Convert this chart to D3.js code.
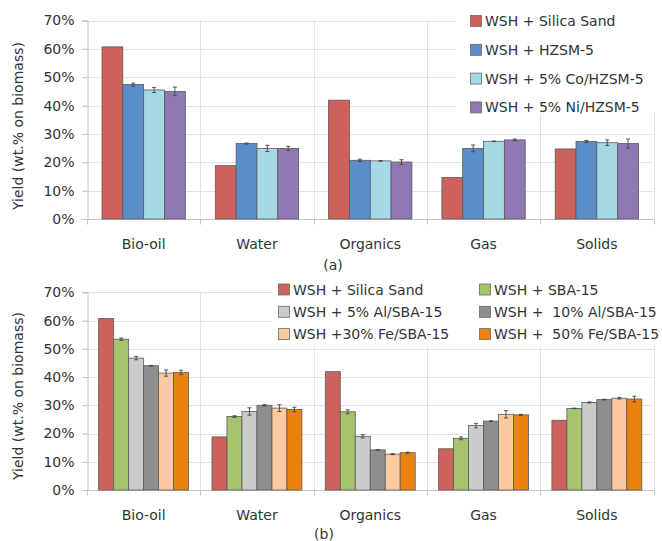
<!DOCTYPE html>
<html>
<head>
<meta charset="utf-8">
<script src="https://cdn.jsdelivr.net/npm/d3@7"></script>
<style>
  html, body { margin: 0; padding: 0; background: #fff; }
  svg { display: block; font-family: "DejaVu Sans", Verdana, sans-serif; }
  text { fill: #333; }
</style>
</head>
<body>
<svg id="chart" width="662" height="541"></svg>
<script>
// Product categories shared by both panels
const categories = ["Bio-oil", "Water", "Organics", "Gas", "Solids"];

// Panel (a): HZSM-5 based catalysts
const seriesA = ["WSH + Silica Sand", "WSH + HZSM-5", "WSH + 5% Co/HZSM-5", "WSH + 5% Ni/HZSM-5"];
const colorsA = ["#CD615B", "#5B8EC9", "#A6D9E6", "#9078B4"];
const silicaSand = [60.7, 18.8, 41.9, 14.6, 24.7];
const hzsm5 = [47.4, 26.6, 20.7, 24.9, 27.3];
const coHzsm5 = [45.5, 24.9, 20.5, 27.4, 26.9];
const niHzsm5 = [45.0, 24.9, 20.1, 27.9, 26.6];
const silicaSandErr = [0, 0, 0, 0, 0];
const hzsm5Err = [0.5, 0.2, 0.4, 1.2, 0.4];
const coHzsm5Err = [0.9, 1.1, 0.1, 0.1, 1.0];
const niHzsm5Err = [1.5, 0.7, 0.8, 0.3, 1.6];

// Panel (b): SBA-15 based catalysts
const seriesB = ["WSH + Silica Sand", "WSH + SBA-15", "WSH + 5% Al/SBA-15",
                 "WSH +  10% Al/SBA-15", "WSH +30% Fe/SBA-15", "WSH +  50% Fe/SBA-15"];
const colorsB = ["#CD615B", "#A6C46B", "#CBCBCB", "#8E8E8E", "#FAC9A0", "#EA820F"];
const sba15 = [53.4, 26.0, 27.7, 18.3, 28.9];
const al5Sba15 = [46.7, 27.8, 19.0, 22.8, 31.0];
const al10Sba15 = [44.0, 30.0, 14.2, 24.4, 32.0];
const fe30Sba15 = [41.4, 29.0, 12.7, 26.8, 32.5];
const fe50Sba15 = [41.6, 28.5, 13.2, 26.6, 32.2];
const sba15Err = [0.4, 0.3, 0.7, 0.5, 0.1];
const al5Sba15Err = [0.6, 1.3, 0.6, 0.8, 0.2];
const al10Sba15Err = [0.1, 0.2, 0.1, 0.1, 0.1];
const fe30Sba15Err = [1.1, 1.2, 0.2, 1.3, 0.3];
const fe50Sba15Err = [0.8, 0.8, 0.2, 0.2, 1.0];

const yTicks = [0, 10, 20, 30, 40, 50, 60, 70];
const yTitle = "Yield (wt.% on biomass)";

const svg = d3.select("#chart");

function panel(cfg) {
  const g = svg.append("g");
  const x = d3.scaleBand().domain(categories).range([87, 653.5]).padding(0);
  const y = d3.scaleLinear().domain([0, 70]).range([cfg.y0, cfg.y70]);
  const x1 = d3.scaleBand().domain(cfg.series)
    .range([cfg.groupPad, x.bandwidth() - cfg.groupPad]).padding(0);

  // horizontal grid lines
  g.selectAll("line.hg").data(yTicks.slice(1)).join("line")
    .attr("x1", 82).attr("x2", 653.5)
    .attr("y1", d => Math.round(y(d)) + 0.5).attr("y2", d => Math.round(y(d)) + 0.5)
    .attr("stroke", "#e2e2e2").attr("stroke-width", 1);
  // vertical grid lines at category boundaries
  g.selectAll("line.vg").data(categories).join("line")
    .attr("x1", d => Math.round(x(d) + x.bandwidth()) + 0.5)
    .attr("x2", d => Math.round(x(d) + x.bandwidth()) + 0.5)
    .attr("y1", y(0)).attr("y2", y(70))
    .attr("stroke", "#e2e2e2").attr("stroke-width", 1);

  // legend backdrop hides the grid behind it
  g.append("rect").attr("x", cfg.legend.bx).attr("y", cfg.legend.by)
    .attr("width", cfg.legend.bw).attr("height", cfg.legend.bh).attr("fill", "#fff");

  // y axis
  const yAxis = d3.axisLeft(y).tickValues(yTicks).tickSize(5).tickPadding(6)
    .tickFormat(d => d + "%");
  const ya = g.append("g").attr("transform", "translate(87.5,0)").call(yAxis);
  ya.select(".domain").attr("stroke", "#c4c4c4");
  ya.selectAll(".tick line").attr("stroke", "#c4c4c4");
  ya.selectAll(".tick text").attr("font-size", 14).attr("fill", "#333")
    .attr("font-family", "DejaVu Sans, sans-serif").attr("x", -13);

  // x axis with boundary ticks
  const xa = g.append("g").attr("transform", `translate(0,${Math.round(y(0)) + 0.5})`);
  xa.append("line").attr("x1", 82).attr("x2", 653.5).attr("stroke", "#c4c4c4");
  const bounds = [x.range()[0]].concat(categories.map(c => x(c) + x.bandwidth()));
  xa.selectAll("line.t").data(bounds).join("line")
    .attr("x1", d => Math.round(d) + 0.5).attr("x2", d => Math.round(d) + 0.5)
    .attr("y1", 0).attr("y2", 5).attr("stroke", "#c4c4c4");
  xa.selectAll("text").data(categories).join("text")
    .attr("x", d => x(d) + x.bandwidth() / 2).attr("y", cfg.catLabelY)
    .attr("text-anchor", "middle").attr("font-size", 14).text(d => d);

  // bars
  const rows = [];
  cfg.series.forEach((s, i) => {
    categories.forEach((c, j) => {
      rows.push({ s, c, v: cfg.values[i][j], e: cfg.errors[i][j], col: cfg.colors[i] });
    });
  });
  g.selectAll("rect.bar").data(rows).join("rect")
    .attr("x", d => x(d.c) + x1(d.s))
    .attr("y", d => y(d.v))
    .attr("width", x1.bandwidth())
    .attr("height", d => y(0) - y(d.v))
    .attr("fill", d => d.col)
    .attr("stroke", "#5a5a5a").attr("stroke-width", 0.8);

  // error bars
  const eb = g.selectAll("g.err").data(rows.filter(d => d.e > 0)).join("g")
    .attr("stroke", "#444").attr("stroke-width", 0.9);
  eb.append("line")
    .attr("x1", d => x(d.c) + x1(d.s) + x1.bandwidth() / 2)
    .attr("x2", d => x(d.c) + x1(d.s) + x1.bandwidth() / 2)
    .attr("y1", d => y(d.v + d.e)).attr("y2", d => y(d.v - d.e));
  [1, -1].forEach(sgn => {
    eb.append("line")
      .attr("x1", d => x(d.c) + x1(d.s) + x1.bandwidth() / 2 - 2)
      .attr("x2", d => x(d.c) + x1(d.s) + x1.bandwidth() / 2 + 2)
      .attr("y1", d => y(d.v + sgn * d.e)).attr("y2", d => y(d.v + sgn * d.e));
  });

  // y title
  g.append("text")
    .attr("transform", `translate(${cfg.titleX},${cfg.titleY}) rotate(-90)`)
    .attr("text-anchor", "middle").attr("font-size", 14).text(yTitle);

  // panel tag
  g.append("text").attr("x", cfg.tag.x).attr("y", cfg.tag.y)
    .attr("text-anchor", "middle").attr("font-size", 14).text(cfg.tag.text);

  // legend
  const L = cfg.legend;
  const items = g.selectAll("g.leg").data(cfg.series).join("g")
    .attr("transform", (d, i) => {
      const col = i % L.cols, row = Math.floor(i / L.cols);
      return `translate(${L.x[col]},${L.y0 + row * L.dy})`;
    });
  items.append("rect").attr("x", 0.5).attr("y", -5.5).attr("width", 11).attr("height", 11)
    .attr("fill", (d, i) => cfg.colors[i]).attr("stroke", "#6a6a6a").attr("stroke-width", 0.8);
  items.append("text").attr("x", L.textDx).attr("y", 5)
    .attr("font-size", 14).style("white-space", "pre").text(d => d);
}

panel({
  y0: 219, y70: 20.5, groupPad: 15,
  series: seriesA, colors: colorsA,
  values: [silicaSand, hzsm5, coHzsm5, niHzsm5],
  errors: [silicaSandErr, hzsm5Err, coHzsm5Err, niHzsm5Err],
  catLabelY: 29, titleX: 23, titleY: 126,
  tag: { x: 333, y: 270, text: "(a)" },
  legend: { bx: 455, by: 6, bw: 207, bh: 108, cols: 1, x: [470], y0: 21, dy: 28.8, textDx: 15 }
});

panel({
  y0: 490, y70: 292.3, groupPad: 11.7,
  series: seriesB, colors: colorsB,
  values: [silicaSand, sba15, al5Sba15, al10Sba15, fe30Sba15, fe50Sba15],
  errors: [silicaSandErr, sba15Err, al5Sba15Err, al10Sba15Err, fe30Sba15Err, fe50Sba15Err],
  catLabelY: 29, titleX: 23, titleY: 396,
  tag: { x: 324, y: 539, text: "(b)" },
  legend: { bx: 272, by: 277, bw: 390, bh: 69, cols: 2, x: [278, 479], y0: 289.5, dy: 22.3, textDx: 15 }
});
</script>
</body>
</html>
